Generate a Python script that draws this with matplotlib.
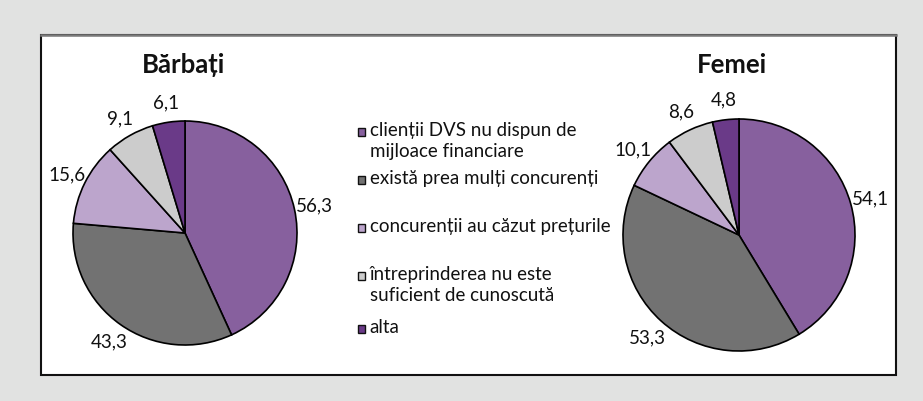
import numpy as np
import matplotlib
matplotlib.use('Agg')
import matplotlib.pyplot as plt
from matplotlib.patches import Rectangle
from matplotlib.lines import Line2D

plt.rcParams['font.family'] = ['Lato', 'DejaVu Sans']

# data
categories = ['clienții DVS nu dispun de\nmijloace financiare',
              'există prea mulți concurenți',
              'concurenții au căzut prețurile',
              'întreprinderea nu este\nsuficient de cunoscută',
              'alta']
barbati = [56.3, 43.3, 15.6, 9.1, 6.1]
femei = [54.1, 53.3, 10.1, 8.6, 4.8]
titles = ['Bărbați', 'Femei']
colors = ['#87609e', '#727272', '#bca5cc', '#cccccc', '#6a3a88']

W, H = 923, 402
fig = plt.figure(figsize=(W / 100, H / 100), dpi=100, facecolor='#e1e2e1')

# white inner box (behind the pies)
fig.patches.append(Rectangle((41 / W, 1 - 376 / H), (896 - 41) / W, (376 - 36) / H,
                             transform=fig.transFigure, facecolor='white',
                             edgecolor='#111111', linewidth=1.5, zorder=-5))
# top edge of the box is grey
fig.lines.append(Line2D([41 / W, 896 / W], [1 - 36 / H, 1 - 36 / H],
                        transform=fig.transFigure, color='#7a7a7a',
                        linewidth=1.8, zorder=-4))


def fmt(v):
    return f"{v:.1f}".replace('.', ',')


def draw_pie(values, cx, cy, r, title, tx):
    ax = fig.add_axes([(cx - r) / W, 1 - (cy + r) / H, 2 * r / W, 2 * r / H])
    ax.set_zorder(2)
    ax.patch.set_alpha(0)
    wedges, texts = ax.pie(values, labels=[fmt(v) for v in values], colors=colors,
                           startangle=90, counterclock=False, labeldistance=1.18,
                           wedgeprops=dict(edgecolor='black', linewidth=1.2),
                           textprops=dict(fontsize=13.5, color='#111111'))
    for t in texts:
        t.set_ha('center')
        t.set_va('center')
    ax.set_xlim(-1, 1)
    ax.set_ylim(-1, 1)
    ax.set_aspect('equal')
    fig.text(tx / W, 1 - 65 / H, title, ha='center', va='center',
             fontsize=18.5, fontweight='bold', color='#111111')


draw_pie(barbati, 185, 234, 112, titles[0], 184)
draw_pie(femei, 739, 236, 116, titles[1], 732)

# legend
legend_y = [133, 181, 229, 277, 330]
for cat, col, y in zip(categories, colors, legend_y):
    fig.patches.append(Rectangle((357.5 / W, 1 - (y + 4) / H), 7.5 / W, 8 / H,
                                 transform=fig.transFigure, facecolor=col,
                                 edgecolor='#111111', linewidth=1.0))
    fig.text(369.5 / W, 1 - (y - 11) / H, cat, ha='left', va='top',
             fontsize=13.5, color='#111111', linespacing=1.3)

fig.savefig('out.png', dpi=100, facecolor=fig.get_facecolor())
